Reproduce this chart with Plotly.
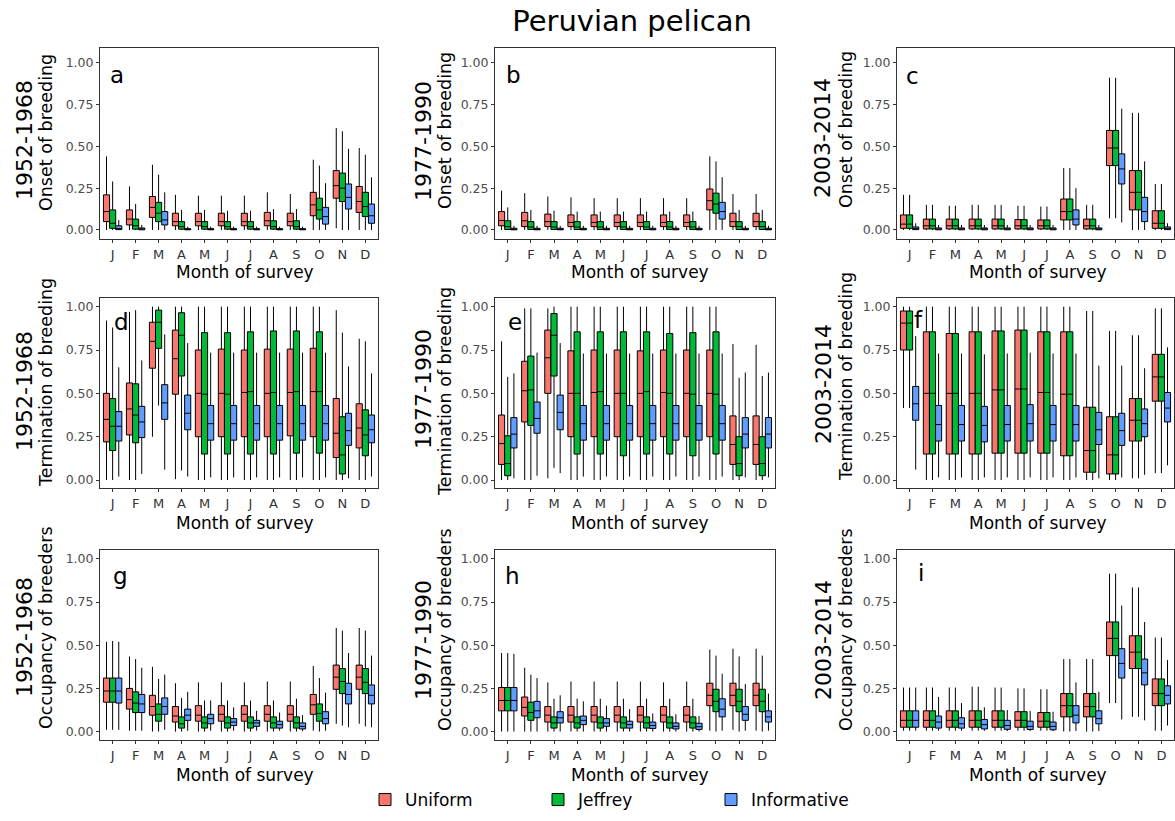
import plotly.graph_objects as go

W, H = 1175, 821
FONT = "DejaVu Sans"

MONTH_POS = list(range(1, 13))
MONTH_LABELS = ["J", "F", "M", "A", "M", "J", "J", "A", "S", "O", "N", "D"]
PRIORS = ["Uniform", "Jeffrey", "Informative"]
COLORS = ["#F8766D", "#00BA38", "#619CFF"]
Y_TICKS = [0, 0.25, 0.5, 0.75, 1.0]
Y_TICK_TEXT = ["0.00", "0.25", "0.50", "0.75", "1.00"]
PERIODS = ["1952-1968", "1977-1990", "2003-2014"]
MEASURES = ["Onset of breeding", "Termination of breeding", "Occupancy of breeders"]
PANEL_LETTERS = ["a", "b", "c", "d", "e", "f", "g", "h", "i"]

# each entry per month: (lower whisker, q1, median, q3, upper whisker)
a_uniform = [(0, .05, .11, .21, .44), (0, .03, .065, .12, .26), (0, .075, .135, .20, .39),
             (0, .025, .05, .10, .21), (0, .025, .05, .10, .205), (0, .025, .05, .10, .205),
             (0, .025, .05, .10, .205), (0, .025, .055, .105, .225), (0, .025, .05, .10, .215),
             (0, .085, .15, .225, .42), (.01, .19, .265, .355, .61), (0, .105, .17, .26, .49)]
a_jeffrey = [(0, .01, .04, .12, .29), (0, .005, .025, .065, .155), (0, .05, .10, .165, .33),
             (0, .005, .02, .05, .12), (0, .005, .02, .05, .12), (0, .005, .02, .05, .115),
             (0, .005, .02, .05, .115), (0, .005, .02, .055, .125), (0, .005, .02, .055, .125),
             (0, .065, .12, .19, .385), (0, .17, .25, .34, .59), (0, .08, .14, .225, .45)]
a_informative = [(0, .002, .008, .025, .06), (0, .001, .004, .012, .03), (0, .03, .06, .11, .225),
                 (0, .001, .003, .008, .02), (0, .001, .003, .008, .02), (0, .001, .003, .008, .02),
                 (0, .001, .003, .008, .02), (0, .001, .003, .008, .02), (0, .001, .003, .008, .02),
                 (0, .035, .08, .135, .28), (0, .125, .195, .275, .485), (0, .04, .085, .155, .315)]

b_uniform = [(0, .025, .057, .11, .235), (0, .02, .055, .105, .22), (0, .02, .05, .095, .20),
             (0, .02, .045, .09, .195), (0, .02, .045, .09, .19), (0, .02, .045, .09, .19),
             (0, .02, .045, .09, .19), (0, .02, .045, .09, .19), (0, .02, .045, .09, .19),
             (0, .12, .175, .245, .44), (0, .02, .05, .10, .215), (0, .02, .05, .10, .215)]
b_jeffrey = [(0, .003, .02, .055, .135), (0, .003, .018, .05, .12), (0, .003, .018, .05, .115),
             (0, .003, .018, .05, .11), (0, .003, .018, .05, .11), (0, .003, .018, .05, .11),
             (0, .003, .018, .05, .11), (0, .003, .018, .05, .11), (0, .003, .018, .05, .11),
             (0, .10, .155, .22, .41), (0, .003, .02, .05, .12), (0, .003, .02, .05, .12)]
b_informative = [(0, .001, .003, .01, .025), (0, .001, .003, .01, .025), (0, .001, .003, .01, .025),
                 (0, .001, .003, .01, .025), (0, .001, .003, .01, .025), (0, .001, .003, .01, .025),
                 (0, .001, .003, .01, .025), (0, .001, .003, .01, .025), (0, .001, .003, .01, .025),
                 (0, .065, .11, .165, .315), (0, .001, .003, .01, .025), (0, .001, .003, .01, .025)]

c_uniform = [(0, .01, .035, .09, .21), (0, .006, .025, .065, .15), (0, .006, .025, .065, .145),
             (0, .006, .025, .065, .15), (0, .006, .025, .065, .15), (0, .006, .025, .062, .145),
             (0, .006, .025, .06, .14), (0, .06, .11, .185, .37), (0, .006, .025, .065, .15),
             (.07, .385, .49, .595, .91), (0, .12, .225, .355, .70), (0, .01, .04, .115, .275)]
c_jeffrey = [(0, .01, .035, .09, .21), (0, .006, .025, .065, .15), (0, .006, .025, .065, .145),
             (0, .006, .025, .065, .15), (0, .006, .025, .065, .15), (0, .006, .025, .062, .145),
             (0, .006, .025, .06, .14), (0, .06, .11, .185, .37), (0, .006, .025, .065, .15),
             (.07, .385, .49, .595, .91), (0, .12, .225, .355, .70), (0, .01, .04, .115, .275)]
c_informative = [(0, .002, .006, .018, .04), (0, .001, .004, .012, .03), (0, .001, .004, .012, .03),
                 (0, .001, .004, .012, .03), (0, .001, .004, .012, .03), (0, .001, .004, .012, .03),
                 (0, .001, .004, .012, .03), (0, .03, .065, .12, .25), (0, .001, .004, .012, .03),
                 (.045, .275, .365, .455, .725), (0, .05, .11, .195, .41), (0, .002, .006, .018, .04)]

d_uniform = [(0, .22, .35, .50, .92), (0, .26, .41, .56, .97), (.25, .645, .80, .91, 1.0),
             (.005, .495, .70, .865, 1.0), (0, .25, .50, .75, 1.0), (0, .25, .50, .755, 1.0),
             (0, .25, .505, .75, 1.0), (0, .25, .50, .755, 1.0), (0, .255, .505, .755, 1.0),
             (0, .25, .51, .76, 1.0), (0, .13, .27, .47, .98), (0, .185, .30, .44, .815)]
d_jeffrey = [(0, .17, .31, .47, .88), (0, .215, .375, .555, .98), (.43, .76, .91, .98, 1.0),
             (.055, .60, .835, .965, 1.0), (0, .15, .495, .85, 1.0), (0, .15, .495, .85, 1.0),
             (0, .15, .51, .855, 1.0), (0, .15, .505, .86, 1.0), (0, .155, .51, .86, 1.0),
             (0, .155, .51, .855, 1.0), (0, .035, .145, .365, .85), (0, .14, .26, .405, .80)]
d_informative = [(.02, .225, .31, .395, .65), (.035, .245, .335, .425, .69), (.06, .35, .445, .55, .84),
                 (.02, .29, .385, .49, .79), (.015, .23, .325, .43, .735), (.015, .23, .325, .43, .735),
                 (.015, .23, .325, .43, .735), (.015, .23, .325, .43, .735), (.015, .23, .325, .43, .735),
                 (.015, .23, .325, .43, .735), (.01, .20, .285, .385, .655), (.02, .215, .29, .375, .615)]

e_uniform = [(0, .09, .21, .375, .80), (0, .335, .515, .685, .99), (.01, .50, .705, .865, .99),
             (0, .25, .50, .745, 1.0), (0, .25, .505, .75, 1.0), (0, .25, .50, .75, 1.0),
             (0, .25, .50, .745, 1.0), (0, .25, .505, .75, 1.0), (0, .25, .50, .75, 1.0),
             (0, .25, .50, .75, 1.0), (0, .09, .205, .37, .785), (0, .09, .205, .37, .78)]
e_jeffrey = [(0, .025, .095, .255, .595), (0, .315, .52, .715, .99), (.07, .60, .835, .96, 1.0),
             (0, .15, .50, .855, 1.0), (0, .15, .51, .855, 1.0), (0, .14, .50, .855, 1.0),
             (0, .15, .51, .855, 1.0), (0, .15, .50, .845, 1.0), (0, .14, .495, .85, 1.0),
             (0, .15, .495, .855, 1.0), (0, .025, .095, .25, .59), (0, .025, .095, .25, .60)]
e_informative = [(.01, .185, .265, .36, .615), (.025, .27, .355, .45, .735), (.04, .29, .39, .49, .79),
                 (.02, .23, .325, .43, .73), (.02, .23, .325, .43, .73), (.02, .23, .325, .43, .73),
                 (.02, .23, .325, .43, .73), (.02, .23, .325, .43, .73), (.02, .23, .325, .43, .73),
                 (.02, .23, .325, .43, .73), (.015, .185, .265, .36, .62), (.015, .185, .265, .36, .62)]

f_uniform = [(.415, .75, .905, .975, 1.0), (0, .15, .50, .855, 1.0), (0, .15, .50, .845, 1.0),
             (0, .15, .50, .855, 1.0), (0, .155, .52, .86, 1.0), (0, .155, .525, .865, 1.0),
             (0, .155, .505, .855, 1.0), (0, .14, .495, .855, 1.0), (0, .045, .17, .42, .975),
             (0, .035, .145, .365, .86), (.01, .225, .345, .47, .835), (.04, .455, .595, .725, .99)]
f_jeffrey = [(.415, .75, .905, .975, 1.0), (0, .15, .50, .855, 1.0), (0, .15, .50, .845, 1.0),
             (0, .15, .50, .855, 1.0), (0, .155, .52, .86, 1.0), (0, .155, .525, .865, 1.0),
             (0, .155, .505, .855, 1.0), (0, .14, .495, .855, 1.0), (0, .045, .17, .42, .975),
             (0, .035, .145, .365, .86), (.01, .225, .345, .47, .835), (.04, .455, .595, .725, .99)]
f_informative = [(.06, .345, .44, .54, .83), (.015, .225, .32, .43, .73), (.015, .225, .32, .43, .73),
                 (.015, .22, .315, .425, .725), (.015, .225, .32, .43, .73), (.015, .225, .325, .435, .735),
                 (.015, .225, .32, .43, .73), (.015, .225, .32, .43, .73), (.01, .205, .29, .39, .66),
                 (.015, .20, .285, .385, .66), (.03, .25, .325, .41, .645), (.085, .335, .415, .505, .765)]

g_uniform = [(.01, .17, .235, .31, .52), (.005, .13, .185, .25, .435), (0, .095, .145, .21, .375),
             (0, .055, .09, .145, .28), (0, .06, .095, .15, .285), (0, .06, .10, .15, .285),
             (0, .06, .10, .15, .285), (0, .06, .10, .15, .29), (0, .06, .10, .15, .29),
             (.005, .10, .155, .215, .38), (.045, .245, .315, .385, .60), (.045, .245, .315, .385, .60)]
g_jeffrey = [(.01, .17, .235, .31, .525), (.005, .11, .165, .23, .42), (0, .06, .10, .16, .305),
             (0, .02, .045, .085, .195), (0, .02, .05, .085, .18), (0, .02, .05, .085, .18),
             (0, .02, .05, .085, .18), (0, .02, .05, .085, .18), (0, .02, .05, .085, .19),
             (0, .06, .105, .16, .31), (.035, .22, .29, .365, .585), (.03, .22, .285, .365, .585)]
g_informative = [(.01, .165, .235, .31, .52), (.005, .11, .16, .215, .37), (.01, .10, .145, .195, .33),
                 (.005, .065, .095, .13, .23), (.005, .045, .075, .10, .18), (.005, .035, .055, .075, .14),
                 (.005, .03, .05, .065, .12), (.005, .02, .04, .06, .11), (.003, .015, .03, .05, .095),
                 (.005, .045, .075, .115, .225), (.025, .16, .215, .28, .455), (.025, .16, .21, .27, .44)]

h_uniform = [(0, .12, .18, .255, .455), (0, .09, .14, .20, .37), (0, .055, .095, .145, .285),
             (0, .055, .095, .145, .29), (0, .055, .095, .145, .29), (0, .055, .095, .145, .29),
             (0, .055, .095, .145, .29), (0, .055, .095, .145, .285), (0, .055, .095, .145, .29),
             (.005, .15, .21, .28, .475), (.01, .15, .21, .28, .48), (.005, .15, .21, .28, .48)]
h_jeffrey = [(0, .12, .18, .255, .455), (0, .065, .11, .17, .33), (0, .02, .05, .085, .19),
             (0, .02, .05, .085, .19), (0, .02, .05, .085, .19), (0, .02, .05, .085, .19),
             (0, .02, .05, .085, .19), (0, .02, .05, .085, .19), (0, .02, .05, .085, .19),
             (0, .115, .175, .245, .44), (0, .115, .175, .245, .435), (0, .115, .175, .245, .44)]
h_informative = [(0, .12, .18, .255, .45), (0, .08, .12, .175, .31), (0, .05, .08, .115, .21),
                 (0, .04, .065, .09, .175), (0, .03, .05, .075, .15), (0, .02, .04, .06, .13),
                 (0, .018, .035, .055, .105), (0, .015, .03, .05, .10), (0, .012, .028, .048, .09),
                 (.005, .085, .13, .19, .335), (.005, .065, .10, .145, .275), (.005, .055, .085, .12, .22)]

i_uniform = [(.005, .025, .065, .12, .255), (.005, .025, .065, .12, .255), (.005, .025, .065, .12, .255),
             (.005, .025, .065, .12, .26), (.005, .025, .065, .12, .255), (.005, .025, .065, .115, .25),
             (.005, .025, .06, .11, .245), (0, .085, .15, .22, .42), (0, .085, .145, .22, .42),
             (.165, .44, .54, .635, .915), (.085, .365, .46, .555, .835), (.005, .15, .22, .305, .545)]
i_jeffrey = [(.005, .025, .065, .12, .255), (.005, .025, .065, .12, .255), (.005, .025, .065, .12, .255),
             (.005, .025, .065, .12, .26), (.005, .025, .065, .12, .255), (.005, .025, .065, .115, .25),
             (.005, .025, .06, .11, .245), (0, .085, .15, .22, .42), (0, .085, .145, .22, .42),
             (.165, .44, .54, .635, .915), (.085, .365, .46, .555, .835), (.005, .15, .22, .305, .545)]
i_informative = [(.005, .025, .065, .12, .255), (.005, .02, .055, .09, .20), (.005, .02, .045, .08, .165),
                 (.005, .015, .04, .07, .14), (.003, .013, .035, .065, .125), (.003, .012, .03, .06, .12),
                 (.003, .01, .03, .055, .115), (.003, .05, .095, .15, .285), (.003, .045, .075, .12, .23),
                 (.07, .31, .395, .48, .73), (.065, .27, .34, .42, .635), (.035, .16, .21, .265, .415)]

PANELS = [
    (a_uniform, a_jeffrey, a_informative), (b_uniform, b_jeffrey, b_informative),
    (c_uniform, c_jeffrey, c_informative), (d_uniform, d_jeffrey, d_informative),
    (e_uniform, e_jeffrey, e_informative), (f_uniform, f_jeffrey, f_informative),
    (g_uniform, g_jeffrey, g_informative), (h_uniform, h_jeffrey, h_informative),
    (i_uniform, i_jeffrey, i_informative),
]

# ---- layout geometry (pixels) ----
COL_X = [(100, 378), (495, 775), (897, 1174)]
ROW_Y = [(48, 239), (298, 488), (550, 740)]
ROW_YRANGE = [(-0.054, 1.088), (-0.046, 1.05), (-0.049, 1.052)]


def px(x):
    return x / W


def py(y):
    return 1 - y / H


fig = go.Figure()
layout = {}
for p, series in enumerate(PANELS):
    r, c = divmod(p, 3)
    idx = "" if p == 0 else str(p + 1)
    xa, ya = "x" + idx, "y" + idx
    for k, stats in enumerate(series):
        lo, q1, med, q3, hi = map(list, zip(*stats))
        fig.add_trace(go.Box(
            x=MONTH_POS, q1=q1, median=med, q3=q3, lowerfence=lo, upperfence=hi,
            name=PRIORS[k], legendgroup=PRIORS[k], showlegend=(p == 0),
            offsetgroup=PRIORS[k], alignmentgroup="panel" + str(p),
            fillcolor=COLORS[k], line=dict(color="black", width=1),
            whiskerwidth=0, boxpoints=False, xaxis=xa, yaxis=ya, hoverinfo="y",
        ))
    x0, x1 = COL_X[c]
    y0, y1 = ROW_Y[r]
    axis_common = dict(showline=True, mirror=True, linecolor="#333333", linewidth=1,
                       showgrid=False, zeroline=False, ticks="outside", ticklen=3,
                       tickcolor="#333333", tickwidth=1)
    layout["xaxis" + idx] = dict(
        domain=[px(x0), px(x1)], anchor=ya, range=[0.45, 12.55],
        tickvals=MONTH_POS, ticktext=MONTH_LABELS,
        tickfont=dict(family=FONT, size=13, color="#333333"), **axis_common)
    layout["yaxis" + idx] = dict(
        domain=[py(y1), py(y0)], anchor=xa, range=list(ROW_YRANGE[r]),
        tickvals=Y_TICKS, ticktext=Y_TICK_TEXT,
        tickfont=dict(family=FONT, size=12.5, color="#4d4d4d"), **axis_common)

annotations = []
# panel letters
LETTER_POS = [(117, 75), (513, 75), (912, 76), (121, 322), (515, 322), (918, 320),
              (120, 576), (512, 576), (921, 573)]
for letter, (lx, ly) in zip(PANEL_LETTERS, LETTER_POS):
    annotations.append(dict(text=letter, x=px(lx), y=py(ly), xref="paper", yref="paper",
                            showarrow=False, xanchor="center", yanchor="middle",
                            font=dict(family=FONT, size=23, color="black")))
# x titles
XT_X = [245, 640, 1038]
XT_Y = [272, 523, 775]
for r in range(3):
    for c in range(3):
        annotations.append(dict(text="Month of survey", x=px(XT_X[c]), y=py(XT_Y[r]),
                                xref="paper", yref="paper", showarrow=False,
                                xanchor="center", yanchor="middle",
                                font=dict(family=FONT, size=17, color="black")))
# y titles (period + measure)
BIG_X = [24, 423, 823]
SMALL_X = [46, 445, 846]
BIG_Y = [[140, 141, 138], [391, 389, 384], [637, 640, 640]]
SMALL_Y = [[132, 131, 130], [382, 392, 377], [627, 630, 630]]
for r in range(3):
    for c in range(3):
        annotations.append(dict(text=PERIODS[c], x=px(BIG_X[c]), y=py(BIG_Y[r][c]),
                                xref="paper", yref="paper", showarrow=False, textangle=-90,
                                xanchor="center", yanchor="middle",
                                font=dict(family=FONT, size=22, color="black")))
        annotations.append(dict(text=MEASURES[r], x=px(SMALL_X[c]), y=py(SMALL_Y[r][c]),
                                xref="paper", yref="paper", showarrow=False, textangle=-90,
                                xanchor="center", yanchor="middle",
                                font=dict(family=FONT, size=17.5, color="black")))

fig.update_layout(
    width=W, height=H,
    margin=dict(l=0, r=0, t=0, b=0),
    paper_bgcolor="white", plot_bgcolor="white",
    boxmode="group", boxgap=0.2, boxgroupgap=0,
    title=dict(text="Peruvian pelican", x=px(632), y=py(21), xanchor="center",
               yanchor="middle", font=dict(family=FONT, size=29, color="black")),
    font=dict(family=FONT, color="black"),
    legend=dict(orientation="h", x=px(365), xanchor="left", y=py(800), yanchor="middle",
                font=dict(family=FONT, size=17, color="black"), entrywidth=128,
                entrywidthmode="pixels", bgcolor="rgba(0,0,0,0)"),
    annotations=annotations,
    **layout,
)

fig.write_html("out.html", config={"displayModeBar": False},
               post_script="document.body.style.margin='0px';document.body.style.overflow='hidden';")
